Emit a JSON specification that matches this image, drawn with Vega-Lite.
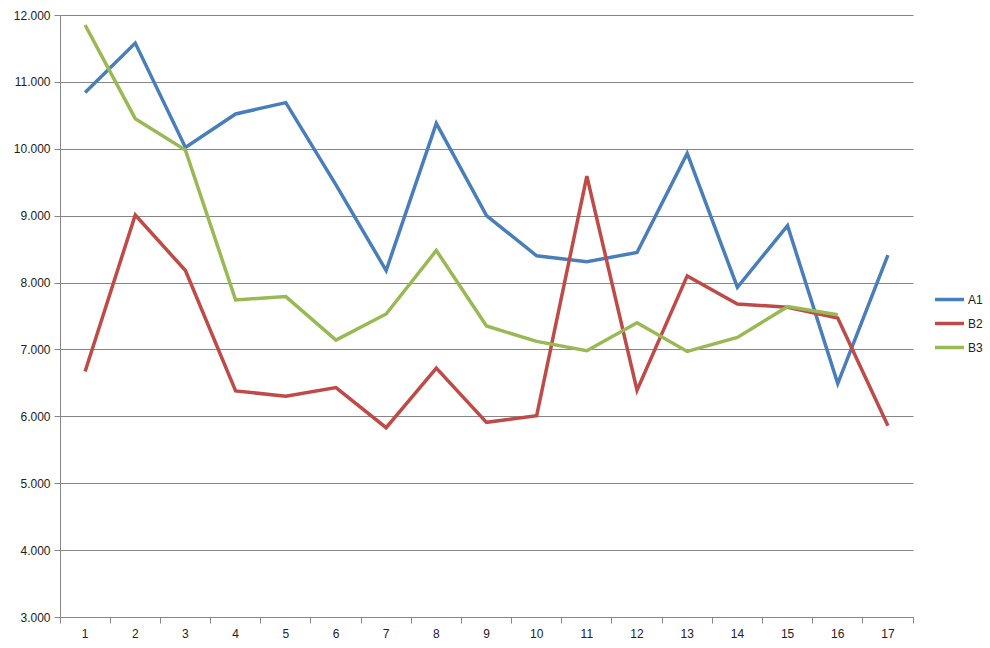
{
  "$schema": "https://vega.github.io/schema/vega-lite/v6.json",
  "width": 853,
  "height": 602,
  "autosize": {"type": "none"},
  "padding": {"left": 60, "top": 15, "right": 77, "bottom": 31},
  "background": "white",
  "config": {"view": {"stroke": null}},
  "data": {"values": [
    {"x": 1, "series": "A1", "value": 10.84},
    {"x": 2, "series": "A1", "value": 11.58},
    {"x": 3, "series": "A1", "value": 10.02},
    {"x": 4, "series": "A1", "value": 10.52},
    {"x": 5, "series": "A1", "value": 10.69},
    {"x": 6, "series": "A1", "value": 9.46},
    {"x": 7, "series": "A1", "value": 8.18},
    {"x": 8, "series": "A1", "value": 10.38},
    {"x": 9, "series": "A1", "value": 9.0},
    {"x": 10, "series": "A1", "value": 8.4},
    {"x": 11, "series": "A1", "value": 8.31},
    {"x": 12, "series": "A1", "value": 8.45},
    {"x": 13, "series": "A1", "value": 9.93},
    {"x": 14, "series": "A1", "value": 7.93},
    {"x": 15, "series": "A1", "value": 8.85},
    {"x": 16, "series": "A1", "value": 6.49},
    {"x": 17, "series": "A1", "value": 8.41},
    {"x": 1, "series": "B2", "value": 6.67},
    {"x": 2, "series": "B2", "value": 9.01},
    {"x": 3, "series": "B2", "value": 8.18},
    {"x": 4, "series": "B2", "value": 6.38},
    {"x": 5, "series": "B2", "value": 6.3},
    {"x": 6, "series": "B2", "value": 6.43},
    {"x": 7, "series": "B2", "value": 5.83},
    {"x": 8, "series": "B2", "value": 6.72},
    {"x": 9, "series": "B2", "value": 5.91},
    {"x": 10, "series": "B2", "value": 6.01},
    {"x": 11, "series": "B2", "value": 9.59},
    {"x": 12, "series": "B2", "value": 6.39},
    {"x": 13, "series": "B2", "value": 8.1},
    {"x": 14, "series": "B2", "value": 7.68},
    {"x": 15, "series": "B2", "value": 7.63},
    {"x": 16, "series": "B2", "value": 7.47},
    {"x": 17, "series": "B2", "value": 5.86},
    {"x": 1, "series": "B3", "value": 11.85},
    {"x": 2, "series": "B3", "value": 10.45},
    {"x": 3, "series": "B3", "value": 9.98},
    {"x": 4, "series": "B3", "value": 7.74},
    {"x": 5, "series": "B3", "value": 7.79},
    {"x": 6, "series": "B3", "value": 7.14},
    {"x": 7, "series": "B3", "value": 7.53},
    {"x": 8, "series": "B3", "value": 8.48},
    {"x": 9, "series": "B3", "value": 7.35},
    {"x": 10, "series": "B3", "value": 7.12},
    {"x": 11, "series": "B3", "value": 6.98},
    {"x": 12, "series": "B3", "value": 7.4},
    {"x": 13, "series": "B3", "value": 6.97},
    {"x": 14, "series": "B3", "value": 7.18},
    {"x": 15, "series": "B3", "value": 7.64},
    {"x": 16, "series": "B3", "value": 7.52}
  ]},
  "mark": {"type": "line", "strokeWidth": 3.5, "strokeJoin": "miter"},
  "encoding": {
    "x": {
      "field": "x",
      "type": "ordinal",
      "scale": {"type": "band", "paddingInner": 0, "paddingOuter": 0},
      "axis": {
        "title": null,
        "labelAngle": 0,
        "bandPosition": 1,
        "tickExtra": true,
        "grid": false,
        "domainColor": "#868686",
        "tickColor": "#868686",
        "tickSize": 6,
        "labelFont": "Liberation Sans",
        "labelFontSize": 12,
        "labelColor": "#222222",
        "labelPadding": 5
      }
    },
    "y": {
      "field": "value",
      "type": "quantitative",
      "scale": {"domain": [3, 12], "nice": false, "zero": false},
      "axis": {
        "title": null,
        "values": [3, 4, 5, 6, 7, 8, 9, 10, 11, 12],
        "format": ".3f",
        "grid": true,
        "gridColor": "#868686",
        "gridOpacity": 1,
        "domainColor": "#868686",
        "tickColor": "#868686",
        "tickSize": 6,
        "labelFont": "Liberation Sans",
        "labelFontSize": 12,
        "labelColor": "#222222",
        "labelPadding": 4
      }
    },
    "color": {
      "field": "series",
      "type": "nominal",
      "scale": {"domain": ["A1", "B2", "B3"], "range": ["#4A7EBB", "#BE4B48", "#98B954"]},
      "legend": {
        "title": null,
        "orient": "none",
        "legendX": 873,
        "legendY": 268,
        "padding": 0,
        "symbolType": "stroke",
        "symbolSize": 841,
        "symbolStrokeWidth": 3.5,
        "labelFont": "Liberation Sans",
        "labelFontSize": 12,
        "labelColor": "#222222",
        "labelOffset": 2,
        "rowPadding": -1
      }
    }
  }
}
